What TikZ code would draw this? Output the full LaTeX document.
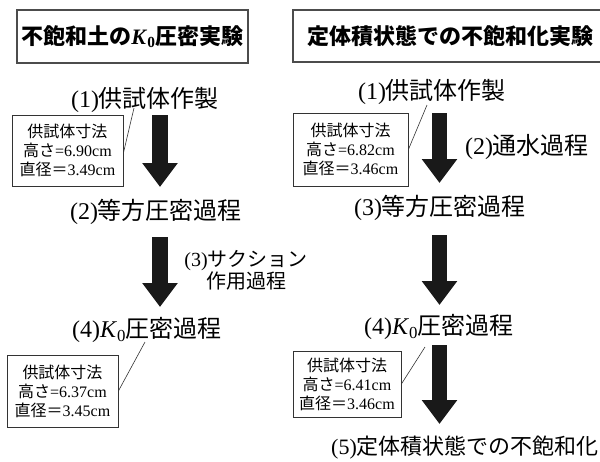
\documentclass[tikz,border=0pt]{standalone}
\usepackage{fontspec}
\setmainfont{Liberation Serif}
\newfontfamily\jp{Noto Sans CJK JP}
\usetikzlibrary{arrows.meta}
\begin{document}
\begin{tikzpicture}[x=1pt,y=-1pt,
  titlebox/.style={draw=black!70, line width=1.2pt, inner sep=0pt, font=\fontsize{22}{26}\selectfont},
  stage/.style={inner sep=0pt, font=\fontsize{24}{28}\selectfont},
  sidelabel/.style={inner sep=0pt, align=center, font=\fontsize{20}{19}\selectfont},
  sizebox/.style={draw=black!80, line width=0.8pt, inner sep=0pt, align=center, font=\fontsize{16}{19}\selectfont},
  flow/.style={line width=15.5pt, draw=black!90, -{Triangle[width=34pt,length=24pt]}},
  leader/.style={line width=0.6pt, draw=black!80}]
\useasboundingbox (0,0) rectangle (600,461);

% titles
\node[titlebox, minimum width=231pt, minimum height=53pt] (t1) at (132.5,36.5)
  {{\jp\bfseries 不飽和土の}\textbf{\textit{K}\textsubscript{0}}{\jp\bfseries 圧密実験}};
\node[titlebox, minimum width=314pt, minimum height=52pt, text width=294pt, align=center] (t2) at (450,36)
  {{\jp\bfseries 定体積状態での不飽和化実験}\hspace*{6pt}};

% left column
\node[stage] (L1) at (145,100) {(1){\jp 供試体作製}};
\node[stage] (L2) at (156,212) {(2){\jp 等方圧密過程}};
\node[stage] (L4) at (147,330) {(4)\textit{K}\textsubscript{0}{\jp 圧密過程}};
\node[sidelabel] (L3) at (246,270) {(3){\jp サクション}\\{\jp 作用過程}};

\node[sizebox, minimum width=111pt, minimum height=71pt] (bL1) at (67.5,150.5)
  {{\jp 供試体寸法}\\{\jp 高さ}=6.90cm\\{\jp 直径＝}3.49cm};
\node[sizebox, minimum width=111pt, minimum height=72pt] (bL4) at (62.5,391)
  {{\jp 供試体寸法}\\{\jp 高さ}=6.37cm\\{\jp 直径＝}3.45cm};

\coordinate (aL1s) at (160,115);
\coordinate (aL1e) at (160,187);
\coordinate (aL2s) at (160,237);
\coordinate (aL2e) at (160,307);
\draw[flow] (aL1s) -- (aL1e);
\draw[flow] (aL2s) -- (aL2e);

\coordinate (pL1) at (134,108);
\coordinate (pL4) at (145,342);
\draw[leader] (bL1.east) ++(0,2.5) -- (pL1);
\draw[leader] (bL4.east) -- (pL4);

% right column
\node[stage] (R1) at (432,92) {(1){\jp 供試体作製}};
\node[stage] (R2) at (527,147) {(2){\jp 通水過程}};
\node[stage] (R3) at (440,208) {(3){\jp 等方圧密過程}};
\node[stage] (R4) at (439,327) {(4)\textit{K}\textsubscript{0}{\jp 圧密過程}};
\node[stage, anchor=west, font=\fontsize{22}{26}\selectfont] (R5) at (331,448) {(5){\jp 定体積状態での不飽和化}};

\node[sizebox, minimum width=115pt, minimum height=73pt] (bR1) at (350.5,149.5)
  {{\jp 供試体寸法}\\{\jp 高さ}=6.82cm\\{\jp 直径＝}3.46cm};
\node[sizebox, minimum width=108pt, minimum height=66pt] (bR4) at (347,384)
  {{\jp 供試体寸法}\\{\jp 高さ}=6.41cm\\{\jp 直径＝}3.46cm};

\coordinate (aR1s) at (439.5,113);
\coordinate (aR1e) at (439.5,183);
\coordinate (aR2s) at (439.5,235);
\coordinate (aR2e) at (439.5,305);
\coordinate (aR3s) at (439.5,345);
\coordinate (aR3e) at (439.5,424);
\draw[flow] (aR1s) -- (aR1e);
\draw[flow] (aR2s) -- (aR2e);
\draw[flow] (aR3s) -- (aR3e);

\coordinate (pR1) at (427,105);
\coordinate (pR4) at (425,347);
\draw[leader] (bR1.east) -- (pR1);
\draw[leader] (bR4.east) -- (pR4);
\end{tikzpicture}
\end{document}
